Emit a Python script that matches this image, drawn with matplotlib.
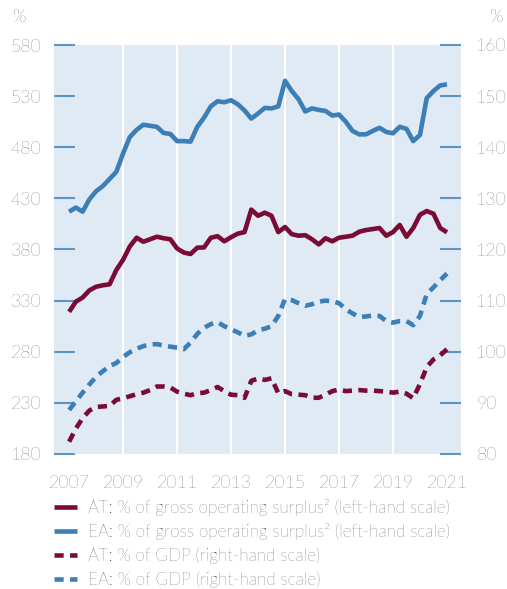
import numpy as np
import matplotlib
matplotlib.use("Agg")
import matplotlib.pyplot as plt

plt.rcParams['font.family'] = ['Lato', 'DejaVu Sans']
plt.rcParams['font.weight'] = 'light'

# quarterly data 2007Q1 - 2021Q1
at_gos = [319, 329, 333, 340, 343.6, 345, 346, 360,
          370, 383, 391.5, 387.6, 390, 392.5, 391, 390,
          381, 377, 375.6, 381.8, 382, 391.5, 393, 388,
          392, 395.5, 397, 419, 413, 416, 413, 397,
          402, 395, 393.5, 394, 390, 385, 391, 388,
          391.5, 392.5, 393.5, 397.4, 399, 400, 401, 393.5,
          397, 404, 392.5, 401, 414, 417.6, 415, 401, 396.8]
ea_gos = [417, 421, 417, 429, 437, 442, 449, 456,
          474, 490, 497, 502, 501, 500, 494, 493,
          486, 486, 485.5, 500, 509, 520, 525, 524,
          526, 522, 516, 508, 513, 518.5, 518, 520,
          545, 535, 527, 515, 518, 516.5, 515.5, 511,
          512, 505, 496, 492.6, 492.6, 496, 499, 495,
          493.6, 500, 498, 486, 492, 528, 535, 540.5, 541.5]
at_gdp = [82.4, 85, 87, 88.5, 89.2, 89.3, 89.4, 90.6,
          90.9, 91.3, 91.7, 92, 92.5, 93.2, 93.2, 93.0,
          92.2, 91.8, 91.5, 91.9, 92, 92.5, 93.1, 92.3,
          91.6, 91.5, 91, 94.3, 94.8, 94.5, 94.8, 91.9,
          92.3, 91.7, 91.6, 91.5, 91, 91, 91.6, 92.3,
          92.6, 92.3, 92.4, 92.5, 92.4, 92.4, 92.3, 92.2,
          92, 92.2, 91.8, 90.9, 93.7, 97, 98.5, 99.3, 100.5]
ea_gdp = [88.6, 90.3, 92, 93.6, 95.1, 96.2, 97.2, 97.8,
          99, 99.9, 100.6, 101.1, 101.4, 101.5, 101.2, 101,
          100.8, 100.5, 101.8, 103.5, 104.7, 105.4, 105.8, 105,
          104.4, 103.8, 103.1, 103.4, 104.2, 104.5, 105, 107,
          110.3, 110.1, 109.5, 109, 109.3, 109.8, 110, 109.9,
          109.5, 108.3, 107.5, 106.8, 106.9, 107.1, 107, 106,
          105.7, 106, 106, 105.2, 107, 111.3, 112.6, 114, 115.3]
years = 2007 + np.arange(len(at_gos)) / 4
year_ticks = list(range(2007, 2022, 2))

red = '#7a0b35'
blue = '#3b7fb6'
tickc = '#5b95c6'
txt = '#1f1f1f'

fig = plt.figure(figsize=(5.07, 5.89), dpi=100)
ax = fig.add_axes([54/507, 1-454/589, (461-54)/507, (454-45)/589])
ax.set_facecolor('#e0eaf4')
ax2 = ax.twinx()

l1, = ax.plot(years, at_gos, color=red, lw=3.3, solid_capstyle='butt')
l2, = ax.plot(years, ea_gos, color=blue, lw=3.3, solid_capstyle='butt')
l3, = ax2.plot(years, at_gdp, color=red, lw=3.3, dashes=(2, 1.4))
l4, = ax2.plot(years, ea_gdp, color=blue, lw=3.3, dashes=(2, 1.4))

ax.set_xlim(2006.44, 2021.52)
ax.set_ylim(180, 580)
ax2.set_ylim(80, 160)
ax.set_yticks(range(180, 581, 50))
ax2.set_yticks(range(80, 161, 10))
ax.set_xticks(year_ticks)

ax.xaxis.grid(True, color='white', lw=1.5)
gl = ax.get_xgridlines()
gl[0].set_visible(False)
gl[-1].set_visible(False)

for a in (ax, ax2):
    for s in a.spines.values():
        s.set_visible(False)
ax.tick_params(axis='x', length=0, pad=15, labelsize=12.7, labelcolor=txt)
ax.tick_params(axis='y', direction='in', length=15, width=1.5, color=tickc,
               pad=9, labelsize=12.7, labelcolor=txt)
ax2.tick_params(axis='y', direction='in', length=15, width=1.5, color=tickc,
                pad=11, labelsize=12.7, labelcolor=txt)

fig.text(20/507, 1-17/589, '%', ha='center', va='center', fontsize=12.7, color=txt)
fig.text(497/507, 1-17/589, '%', ha='center', va='center', fontsize=12.7, color=txt)

labels = ['AT: % of gross operating surplus\u00b2 (left-hand scale)',
          'EA: % of gross operating surplus\u00b2 (left-hand scale)',
          'AT: % of GDP (right-hand scale)',
          'EA: % of GDP (right-hand scale)']
leg = fig.legend([l1, l2, l3, l4], labels, loc='upper left',
                 bbox_to_anchor=(54/507, 1-499/589), frameon=False,
                 fontsize=12.3, handlelength=1.35, handletextpad=0.65,
                 labelspacing=0.42, borderpad=0, borderaxespad=0)
for t in leg.get_texts():
    t.set_color(txt)

fig.savefig('out.png', dpi=100)
